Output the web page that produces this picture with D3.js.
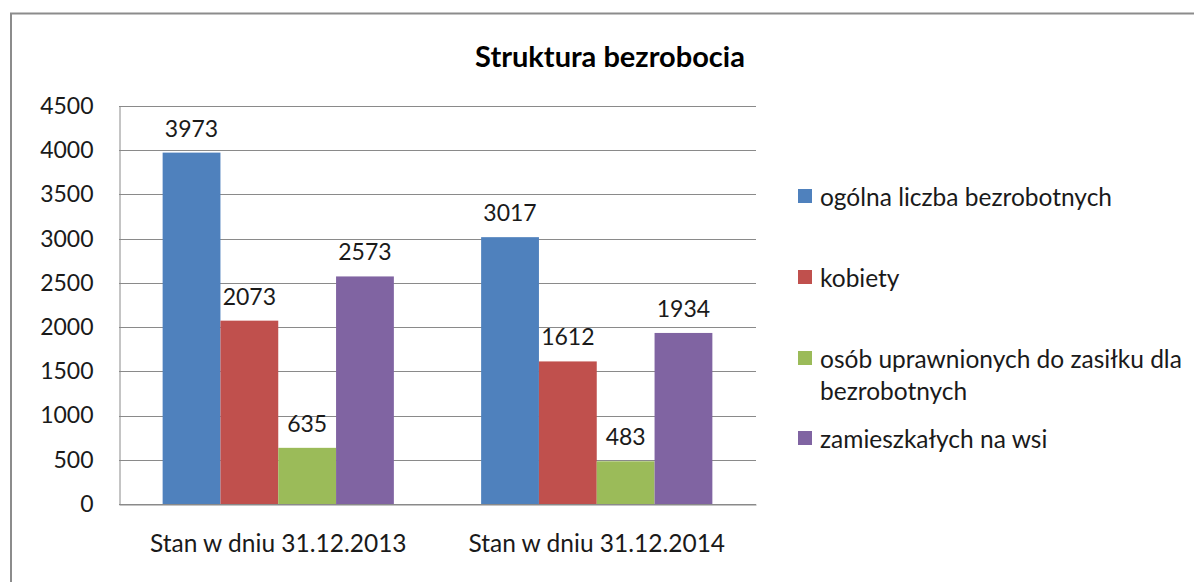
<!DOCTYPE html>
<html><head><meta charset="utf-8">
<script src="https://cdn.jsdelivr.net/npm/d3@7"></script>
<style>body{margin:0;background:#fff}svg{display:block}text{font-family:Lato,"Open Sans",sans-serif}</style>
</head><body>
<script>
const categories = ["Stan w dniu 31.12.2013", "Stan w dniu 31.12.2014"];
const seriesNames = ["ogólna liczba bezrobotnych", "kobiety", "osób uprawnionych do zasiłku dla bezrobotnych", "zamieszkałych na wsi"];
const seriesColors = ["#4F81BD", "#C0504D", "#9BBB59", "#8064A2"];
const values = [
  [3973, 3017],
  [2073, 1612],
  [635, 483],
  [2573, 1934]
];
const yTicks = [0, 500, 1000, 1500, 2000, 2500, 3000, 3500, 4000, 4500];
const legendLines = [["ogólna liczba bezrobotnych"], ["kobiety"], ["osób uprawnionych do zasiłku dla", "bezrobotnych"], ["zamieszkałych na wsi"]];

const W = 1194, H = 582;
const svg = d3.select("body").append("svg").attr("width", W).attr("height", H);

// outer chart border
svg.append("rect").attr("x", 11).attr("y", 13.5).attr("width", W + 20).attr("height", H + 20)
  .attr("fill", "none").attr("stroke", "#8c8c8c").attr("stroke-width", 2);

const plot = {left: 119, right: 756, top: 106, bottom: 504};

const x = d3.scaleBand().domain(categories).range([plot.left, plot.right]).paddingInner(0).paddingOuter(0);
const barW = x.bandwidth() * 0.726 / 4;
const y = d3.scaleLinear().domain([0, 4500]).range([plot.bottom, plot.top]);

// gridlines
svg.append("g").selectAll("line").data(yTicks).join("line")
  .attr("x1", plot.left).attr("x2", plot.right)
  .attr("y1", d => Math.round(y(d)) + 0.5).attr("y2", d => Math.round(y(d)) + 0.5)
  .attr("stroke", "#8a8a8a").attr("stroke-width", 1);

// y axis
const yAxis = d3.axisLeft(y).tickValues(yTicks).tickSize(0).tickPadding(26).tickFormat(d3.format("d"));
const gy = svg.append("g").attr("transform", `translate(${plot.left + 0.5},0)`).call(yAxis);
gy.select(".domain").attr("stroke", "#8a8a8a");
gy.selectAll("text").attr("font-size", 23).attr("fill", "#1a1a1a").attr("font-family", "Lato");

// bars
const groups = svg.append("g").selectAll("g").data(seriesNames).join("g").attr("fill", (d, i) => seriesColors[i]);
groups.each(function(name, si) {
  const g = d3.select(this);
  const data = categories.map((c, ci) => ({c, v: values[si][ci]}));
  const bx = d => x(d.c) + x.bandwidth() / 2 - 2 * barW + si * barW;
  g.selectAll("rect").data(data).join("rect")
    .attr("x", bx).attr("width", barW)
    .attr("y", d => y(d.v)).attr("height", d => y(0) - y(d.v));
  svg.append("g").selectAll("text").data(data).join("text")
    .attr("x", d => bx(d) + barW / 2).attr("y", d => y(d.v) - 25)
    .attr("text-anchor", "middle").attr("dominant-baseline", "central")
    .attr("font-size", 23).attr("fill", "#1a1a1a").text(d => d.v);
});

// bottom axis
const xAxis = d3.axisBottom(x).tickSize(0).tickPadding(30);
const gx = svg.append("g").attr("transform", `translate(0,${plot.bottom + 0.5})`).call(xAxis);
gx.select(".domain").attr("stroke", "#8a8a8a");
gx.selectAll("text").attr("font-size", 24.5).attr("fill", "#1a1a1a").attr("font-family", "Lato");

// title
svg.append("text").attr("x", 610).attr("y", 55).attr("text-anchor", "middle").attr("dominant-baseline", "central")
  .attr("font-size", 29).attr("font-weight", "bold").attr("fill", "#000").text("Struktura bezrobocia");

// legend
const legendY = [196, 277, 358, 438];
const lg = svg.append("g").selectAll("g").data(seriesNames).join("g")
  .attr("transform", (d, i) => `translate(798,${legendY[i]})`);
lg.append("rect").attr("x", 0).attr("y", -7).attr("width", 14).attr("height", 14).attr("fill", (d, i) => seriesColors[i]);
lg.each(function(d, i) {
  const t = d3.select(this).append("text").attr("x", 22).attr("y", 0)
    .attr("font-size", 24.5).attr("fill", "#1a1a1a").attr("dominant-baseline", "central");
  legendLines[i].forEach((line, li) => {
    t.append("tspan").attr("x", 22).attr("dy", li === 0 ? 0 : 32).text(line);
  });
});
</script>
</body></html>
